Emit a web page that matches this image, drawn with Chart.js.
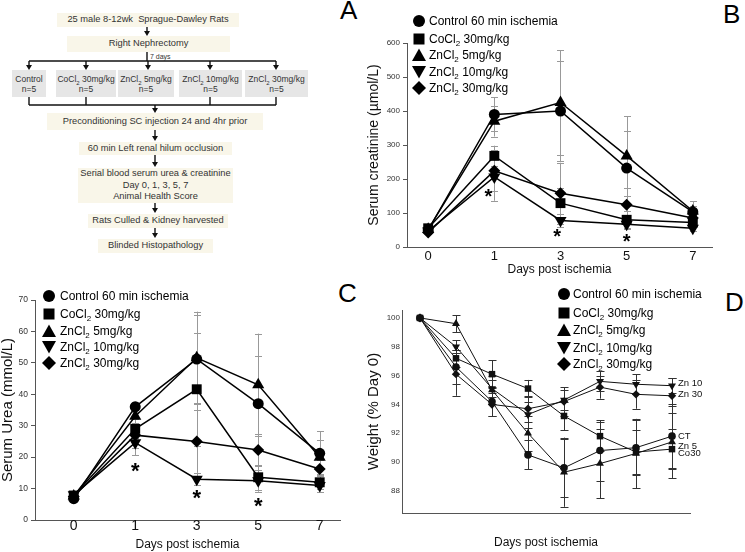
<!DOCTYPE html>
<html><head><meta charset="utf-8">
<script src="https://cdn.jsdelivr.net/npm/chart.js@4.4.1/dist/chart.umd.min.js"></script>
<style>
body{margin:0;background:#fff;width:745px;height:552px;position:relative;overflow:hidden;font-family:"Liberation Sans",Arial,sans-serif;}
.box{position:absolute;background:#f9f6e9;color:#333;font-size:9.3px;text-align:center;display:flex;align-items:center;justify-content:center;line-height:11.5px;white-space:nowrap;}
.grp{background:#e6e6e6;flex-direction:column;font-size:8.5px;line-height:10px;}
.grp sub{font-size:6px;line-height:0;}
.letter{position:absolute;font-size:26px;line-height:26px;color:#000;}
.cv{position:absolute;}
.legend{position:absolute;font-size:12px;color:#000;}
.legend .row{position:absolute;left:0;height:16px;line-height:16px;white-space:nowrap;}
.legend svg{position:absolute;top:1px;}
.legend sub{font-size:8px;vertical-align:-3px;line-height:0;}
</style></head>
<body>
<!-- Panel A flowchart -->
<svg id="flow" style="position:absolute;left:0;top:0" width="330" height="260"></svg>
<div class="box" style="left:57px;top:13px;width:182px;height:14px">25 male 8-12wk&nbsp; Sprague-Dawley Rats</div>
<div class="box" style="left:67px;top:36px;width:163px;height:16px">Right Nephrectomy</div>
<div style="position:absolute;left:150px;top:53px;font-size:7px;color:#333">7 days</div>
<div class="box grp" style="left:12px;top:70px;width:34px;height:27px"><div>Control</div><div>n=5</div></div>
<div class="box grp" style="left:56px;top:70px;width:60px;height:27px"><div>CoCl<sub>2</sub> 30mg/kg</div><div>n=5</div></div>
<div class="box grp" style="left:118px;top:70px;width:56px;height:27px"><div>ZnCl<sub>2</sub> 5mg/kg</div><div>n=5</div></div>
<div class="box grp" style="left:179px;top:70px;width:63px;height:27px"><div>ZnCl<sub>2</sub> 10mg/kg</div><div>n=5</div></div>
<div class="box grp" style="left:245px;top:70px;width:63px;height:27px"><div>ZnCl<sub>2</sub> 30mg/kg</div><div>n=5</div></div>
<div class="box" style="left:47px;top:113px;width:216px;height:17px">Preconditioning SC injection 24 and 4hr prior</div>
<div class="box" style="left:79px;top:142px;width:153px;height:13px">60 min Left renal hilum occlusion</div>
<div class="box" style="left:78px;top:168px;width:155px;height:35px;flex-direction:column"><div>Serial blood serum urea &amp; creatinine</div><div>Day 0, 1, 3, 5, 7</div><div>Animal Health Score</div></div>
<div class="box" style="left:88px;top:214px;width:140px;height:14px">Rats Culled &amp; Kidney harvested</div>
<div class="box" style="left:98px;top:239px;width:115px;height:14px">Blinded Histopathology</div>

<div class="letter" style="left:340px;top:-3px">A</div>
<div class="letter" style="left:723px;top:1px">B</div>
<div class="letter" style="left:338px;top:280px">C</div>
<div class="letter" style="left:725px;top:289px">D</div>

<canvas id="chartB" class="cv" style="left:340px;top:0px" width="405" height="280"></canvas>
<canvas id="chartC" class="cv" style="left:0px;top:270px" width="380" height="282"></canvas>
<canvas id="chartD" class="cv" style="left:355px;top:270px" width="390" height="282"></canvas>

<div id="legB" class="legend" style="left:412px;top:13px"></div>
<div id="legC" class="legend" style="left:42px;top:288px"></div>
<div id="legD" class="legend" style="left:557px;top:286px"></div>

<script>
// ---------- DATA ----------
const seriesLabels = ['Control 60 min ischemia','CoCl₂ 30mg/kg','ZnCl₂ 5mg/kg','ZnCl₂ 10mg/kg','ZnCl₂ 30mg/kg'];
const dayLabels = ['0','1','3','5','7'];
const weightDays = ['0','1','2','3','4','5','6','7'];

// Panel B: serum creatinine (µmol/L)
const creatControl = [50, 390, 400, 232, 103];
const creatCoCl2   = [55, 268, 129, 80, 72];
const creatZn5     = [52, 370, 425, 268, 106];
const creatZn10    = [47, 206, 78, 67, 55];
const creatZn30    = [43, 224, 158, 124, 85];
const creatControlErr = [6, 50, 148, 108, 32];
const creatCoCl2Err   = [5, 30, 45, 25, 12];
const creatZn5Err     = [6, 45, 153, 117, 15];
const creatZn10Err    = [5, 70, 20, 15, 8];
const creatZn30Err    = [5, 60, 90, 50, 20];
const creatStarX = [0.91, 1.95, 3];
const creatStarY = [163, 45, 32];

// Panel C: serum urea (mmol/L)
const ureaControl = [6.8, 36, 51.2, 37, 21.2];
const ureaCoCl2   = [7.8, 29, 41.6, 13.6, 12];
const ureaZn5     = [7.6, 33, 51.6, 43, 20];
const ureaZn10    = [8, 24.6, 13, 12.5, 11];
const ureaZn30    = [7.5, 27, 25, 22.3, 16.2];
const ureaControlErr = [0.8, 1.5, 14, 15.3, 7];
const ureaCoCl2Err   = [0.8, 3, 18, 4, 2];
const ureaZn5Err     = [0.8, 3, 14.7, 16.3, 5.5];
const ureaZn10Err    = [0.8, 4, 2, 3.5, 2];
const ureaZn30Err    = [0.8, 4, 10, 5, 3];
const ureaStarX = [1, 2, 3];
const ureaStarY = [17.5, 8.7, 6.1];

// Panel D: weight (% day 0)
const weightControl = [100, 96.6, 94.2, 90.5, 89.6, 90.8, 91.0, 91.8];
const weightCoCl2   = [100, 97.2, 96.1, 95.1, 93.2, 91.8, 90.7, 90.9];
const weightZn5     = [100, 99.6, 95.0, 92.0, 89.3, 89.9, 90.6, 91.4];
const weightZn10    = [100, 98.0, 95.1, 93.3, 94.3, 95.6, 95.4, 95.3];
const weightZn30    = [100, 96.1, 94.0, 93.7, 94.2, 95.2, 94.7, 94.6];
const weightControlErr = [0, 1.2, 1.0, 1.0, 2.0, 2.1, 1.9, 2.2];
const weightCoCl2Err   = [0, 0.6, 0.95, 0.6, 1.0, 1.0, 1.5, 1.4];
const weightZn5Err     = [0, 0.6, 1.0, 1.2, 2.4, 2.4, 2.4, 2.5];
const weightZn10Err    = [0, 0.45, 0.6, 0.9, 0.7, 0.7, 0.7, 0.5];
const weightZn30Err    = [0, 1.5, 0.8, 0.9, 1.0, 0.8, 1.0, 1.2];
const weightEndLabels  = ['CT', 'Co30', 'Zn 5', 'Zn 10', 'Zn 30'];

// ---------- FLOWCHART CONNECTORS ----------
(function(){
  const s = [];
  const L = (x1,y1,x2,y2)=>s.push(`<line x1="${x1}" y1="${y1}" x2="${x2}" y2="${y2}" stroke="#111" stroke-width="1.4"/>`);
  const A = (x,y1,y2)=>{L(x,y1,x,y2-4);s.push(`<polygon points="${x-3},${y2-5} ${x+3},${y2-5} ${x},${y2}" fill="#111"/>`);};
  A(147,27,36);
  L(147,52,147,61);
  L(29,61,276,61);
  [29,86,148,210,276].forEach(x=>A(x,61,70));
  [29,86,210,276].forEach(x=>L(x,97,x,105));
  L(29,105,276,105);
  A(155,105,113);
  A(155,130,141);
  A(155,155,167);
  A(155,203,213);
  A(155,228,238);
  document.getElementById('flow').innerHTML = s.join('');
})();

// ---------- LEGENDS ----------
const shapeSvg = [
  '<circle cx="7" cy="7" r="6" fill="#000"/>',
  '<rect x="1.5" y="1.5" width="11" height="11" fill="#000"/>',
  '<polygon points="7,0.5 14,13 0,13" fill="#000"/>',
  '<polygon points="0,1 14,1 7,13.5" fill="#000"/>',
  '<polygon points="7,0 14,7 7,14 0,7" fill="#000"/>'
];
function buildLegend(id, rowTops, textLeft){
  const el = document.getElementById(id);
  el.innerHTML = seriesLabels.map((lab,k)=>
    `<div class="row" style="top:${rowTops[k]}px"><svg width="14" height="14" style="left:0">${shapeSvg[k]}</svg><span style="position:absolute;left:${textLeft}px">${lab.replace('₂','<sub>2</sub>')}</span></div>`
  ).join('');
}
buildLegend('legB',[0,18,34,51,67],17);
buildLegend('legC',[0,18,35,51,67],18);
buildLegend('legD',[0,19,36,54,70],16);

// ---------- CHART HELPERS ----------
const F = '"Liberation Sans", Arial, sans-serif';
const pointStyles = ['circle','rect','triangle','triangle','rectRot'];

function buildSets(values, errors, radii, lw, color){
  return values.map((vals,k)=>({
    label: seriesLabels[k],
    data: vals.map((v,i)=>({x:i, y:v})),
    errors: errors[k],
    borderColor: color, backgroundColor: color, borderWidth: lw,
    pointStyle: pointStyles[k], pointRotation: k===3 ? 180 : 0,
    pointRadius: radii[k], pointBorderWidth: 0, pointBackgroundColor: color,
    tension: 0, fill: false
  }));
}

const errorBars = {
  id: 'errorBars',
  beforeDatasetsDraw(chart, args, o){
    const {ctx, scales:{x, y}} = chart;
    ctx.save();
    ctx.strokeStyle = o.color; ctx.lineWidth = o.width;
    chart.data.datasets.forEach(ds=>{
      ds.data.forEach((p,i)=>{
        const e = ds.errors[i];
        if (!e) return;
        const px = Math.round(x.getPixelForValue(p.x)) + 0.5;
        const t = y.getPixelForValue(p.y + e), b = y.getPixelForValue(p.y - e);
        ctx.beginPath();
        ctx.moveTo(px, t); ctx.lineTo(px, b);
        ctx.moveTo(px - o.cap, Math.round(t)+0.5); ctx.lineTo(px + o.cap, Math.round(t)+0.5);
        ctx.moveTo(px - o.cap, Math.round(b)+0.5); ctx.lineTo(px + o.cap, Math.round(b)+0.5);
        ctx.stroke();
      });
    });
    ctx.restore();
  }
};
const stars = {
  id: 'stars',
  afterDatasetsDraw(chart, args, o){
    if (!o.xs) return;
    const {ctx, scales:{x, y}} = chart;
    ctx.save();
    ctx.fillStyle = '#000';
    ctx.font = `bold ${o.size}px ${F}`;
    ctx.textAlign = 'center'; ctx.textBaseline = 'alphabetic';
    o.xs.forEach((xv,i)=>{
      ctx.fillText('*', x.getPixelForValue(xv), y.getPixelForValue(o.ys[i]) + 0.57*o.size);
    });
    ctx.restore();
  }
};
const endLabels = {
  id: 'endLabels',
  afterDatasetsDraw(chart, args, o){
    if (!o.labels) return;
    const {ctx, scales:{x, y}} = chart;
    ctx.save();
    ctx.fillStyle = '#111';
    ctx.font = `${o.size}px ${F}`;
    ctx.textAlign = 'left'; ctx.textBaseline = 'middle';
    chart.data.datasets.forEach((ds,k)=>{
      const p = ds.data[ds.data.length-1];
      ctx.fillText(o.labels[k], x.getPixelForValue(p.x) + 6, y.getPixelForValue(p.y) + o.dy[k]);
    });
    ctx.restore();
  }
};

function makeChart(id, datasets, o){
  return new Chart(document.getElementById(id), {
    type: 'line',
    data: {datasets},
    plugins: [errorBars, stars, endLabels],
    options: {
      responsive: false, animation: false, devicePixelRatio: 1,
      events: [],
      layout: {padding: {top: o.padTop, right: o.padRight, left: 0, bottom: 0}},
      plugins: {
        legend: {display: false}, tooltip: {enabled: false},
        errorBars: o.err, stars: o.stars || {}, endLabels: o.end || {}
      },
      scales: {
        x: {
          type: 'linear', min: o.xMin, max: o.xMax,
          afterFit: s => { s.height = o.xH; },
          ticks: {stepSize: 1, includeBounds: false, autoSkip: false, maxRotation: 0,
                  padding: o.xTickPad, color: '#111',
                  font: {family: F, size: o.xTickSize, lineHeight: 1},
                  callback: v => o.xLabels[v]},
          grid: {display: true, drawOnChartArea: false, drawTicks: o.xTickLen > 0, tickLength: o.xTickLen, color: '#555'},
          border: {display: true, color: '#555', width: 1},
          title: {display: true, text: 'Days post ischemia', color: '#111',
                  font: {family: F, size: 12, lineHeight: 1}, padding: {top: 0, bottom: o.xTitlePad}}
        },
        y: {
          type: 'linear', min: o.yMin, max: o.yMax,
          afterFit: s => { s.width = o.yW; },
          ticks: {stepSize: o.yStep, includeBounds: false, padding: o.yTickPad, color: '#333',
                  font: {family: F, size: o.yTickSize, lineHeight: 1}},
          grid: {display: true, drawOnChartArea: false, drawTicks: o.yTickLen > 0, tickLength: o.yTickLen, color: '#555'},
          border: {display: true, color: '#555', width: 1},
          title: {display: true, text: o.yTitle, color: '#111',
                  font: {family: F, size: o.yTitleSize, lineHeight: 1}, padding: {top: o.yTitlePad, bottom: 0}}
        }
      }
    }
  });
}

// Panel B
makeChart('chartB',
  buildSets([creatControl, creatCoCl2, creatZn5, creatZn10, creatZn30],
            [creatControlErr, creatCoCl2Err, creatZn5Err, creatZn10Err, creatZn30Err],
            [5.5, 7, 7, 7, 6], 1.5, '#000'),
  {padTop: 43, padRight: 33, xMin: -0.32, xMax: 4.29, xH: 33, xTickPad: 2.5, xTickSize: 13, xTickLen: 0,
   xLabels: dayLabels, xTitlePad: 4.5,
   yMin: 0, yMax: 600, yStep: 100, yW: 67, yTickPad: 3, yTickSize: 8, yTickLen: 4,
   yTitle: 'Serum creatinine (µmol/L)', yTitleSize: 14, yTitlePad: 27.5,
   err: {color: '#999', width: 1, cap: 3.5},
   stars: {xs: creatStarX, ys: creatStarY, size: 20}});

// Panel C
makeChart('chartC',
  buildSets([ureaControl, ureaCoCl2, ureaZn5, ureaZn10, ureaZn30],
            [ureaControlErr, ureaCoCl2Err, ureaZn5Err, ureaZn10Err, ureaZn30Err],
            [5.5, 7, 7, 7, 6], 1.5, '#000'),
  {padTop: 30, padRight: 40, xMin: -0.63, xMax: 4.33, xH: 32, xTickPad: -1, xTickSize: 14, xTickLen: 0,
   xLabels: dayLabels, xTitlePad: 1,
   yMin: 0, yMax: 70, yStep: 10, yW: 35, yTickPad: 3, yTickSize: 8.5, yTickLen: 4,
   yTitle: 'Serum Urea (mmol/L)', yTitleSize: 15, yTitlePad: 0,
   err: {color: '#999', width: 1, cap: 3.5},
   stars: {xs: ureaStarX, ys: ureaStarY, size: 22}});

// Panel D
makeChart('chartD',
  buildSets([weightControl, weightCoCl2, weightZn5, weightZn10, weightZn30],
            [weightControlErr, weightCoCl2Err, weightZn5Err, weightZn10Err, weightZn30Err],
            [3.8, 4.6, 4.6, 4.6, 4.2], 1, '#111'),
  {padTop: 40, padRight: 55, xMin: -0.5, xMax: 7.5, xH: 39, xTickPad: 5.5, xTickSize: 11, xTickLen: 0,
   xLabels: weightDays, xTitlePad: 3,
   yMin: 86.47, yMax: 100.55, yStep: 2, yW: 47, yTickPad: 2, yTickSize: 8, yTickLen: 0,
   yTitle: 'Weight (% Day 0)', yTitleSize: 15, yTitlePad: 11.5,
   err: {color: '#333', width: 1, cap: 4},
   end: {labels: weightEndLabels, dy: [0, 4, 4, -2, -1], size: 9.5}});
</script>
</body></html>
